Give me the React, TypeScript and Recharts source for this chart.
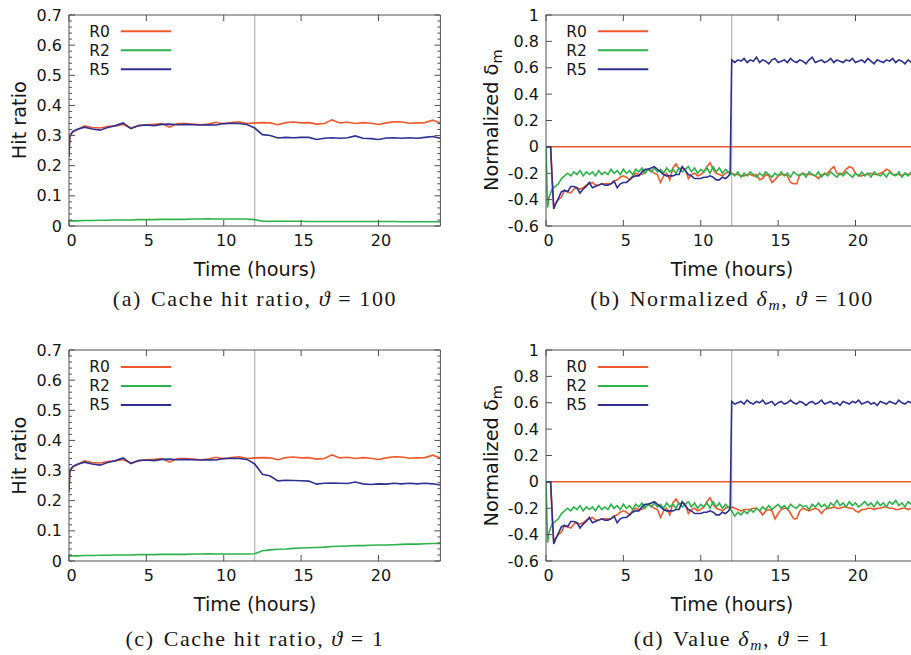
import { Line, LineChart, ReferenceLine, XAxis, YAxis } from 'recharts';

const SANS = '"DejaVu Sans", sans-serif';
const SERIF = '"Liberation Serif", serif';
const FRAME = '#505050';
const INK = '#161616';
const GREY = '#b4b4b4';
const COLORS: Record<string, string> = { R0: '#ef5a2c', R2: '#2db34a', R5: '#2e3192' };
const SERIES = ['R0', 'R2', 'R5'];

const xTicks = [0, 5, 10, 15, 20];
const hitMajor = [0, 0.1, 0.2, 0.3, 0.4, 0.5, 0.6, 0.7];
const hitMinor = [0.02, 0.04, 0.06, 0.08, 0.12, 0.14, 0.16, 0.18, 0.22, 0.24, 0.26, 0.28, 0.32, 0.34, 0.36, 0.38, 0.42, 0.44, 0.46, 0.48, 0.52, 0.54, 0.56, 0.58, 0.62, 0.64, 0.66, 0.68];
const deltaTicks = [-0.6, -0.4, -0.2, 0, 0.2, 0.4, 0.6, 0.8, 1];

// hit ratio panels (a), (c)
const hitTimes = [0, 0.05, 0.25, 0.5, 1, 1.5, 2, 2.5, 3, 3.5, 4, 4.5, 5, 5.5, 6, 6.5, 7, 7.5, 8, 8.5, 9, 9.5, 10, 10.5, 11, 11.5,
  12, 12.5, 13, 13.5, 14, 14.5, 15, 15.5, 16, 16.5, 17, 17.5, 18, 18.5, 19, 19.5, 20, 20.5, 21, 21.5, 22, 22.5, 23, 23.5, 24];
const hitR0 = [0.235, 0.295, 0.312, 0.318, 0.332, 0.327, 0.325, 0.330, 0.332, 0.337, 0.325, 0.333, 0.336, 0.337, 0.340, 0.328, 0.340, 0.340, 0.338, 0.336, 0.338, 0.344, 0.339, 0.343, 0.346, 0.340,
  0.342, 0.343, 0.342, 0.336, 0.343, 0.345, 0.342, 0.343, 0.338, 0.340, 0.352, 0.342, 0.344, 0.340, 0.343, 0.341, 0.337, 0.342, 0.346, 0.345, 0.341, 0.342, 0.343, 0.351, 0.342];
const hitR2First = [0.017, 0.017, 0.017, 0.017, 0.018, 0.018, 0.019, 0.019, 0.020, 0.020, 0.020, 0.021, 0.021, 0.021, 0.022, 0.022, 0.022, 0.022, 0.023, 0.023, 0.024, 0.023, 0.023, 0.023, 0.023, 0.023];
const hitR2SecondA = [0.021, 0.016, 0.016, 0.016, 0.016, 0.016, 0.016, 0.015, 0.015, 0.015, 0.015, 0.015, 0.015, 0.015, 0.015, 0.015, 0.015, 0.015, 0.015, 0.014, 0.014, 0.014, 0.014, 0.014, 0.014];
const hitR2SecondC = [0.024, 0.034, 0.037, 0.039, 0.040, 0.042, 0.043, 0.044, 0.045, 0.046, 0.048, 0.049, 0.050, 0.051, 0.051, 0.052, 0.053, 0.053, 0.054, 0.055, 0.056, 0.056, 0.057, 0.058, 0.058];
const hitR5First = [0.23, 0.30, 0.314, 0.32, 0.328, 0.322, 0.318, 0.327, 0.333, 0.342, 0.323, 0.333, 0.335, 0.333, 0.337, 0.338, 0.336, 0.337, 0.336, 0.335, 0.336, 0.335, 0.340, 0.341, 0.340, 0.337];
const hitR5SecondA = [0.325, 0.303, 0.300, 0.292, 0.294, 0.293, 0.294, 0.294, 0.287, 0.291, 0.293, 0.291, 0.293, 0.299, 0.291, 0.290, 0.287, 0.292, 0.293, 0.291, 0.293, 0.291, 0.294, 0.297, 0.291];
const hitR5SecondC = [0.322, 0.288, 0.282, 0.266, 0.268, 0.267, 0.266, 0.265, 0.255, 0.258, 0.259, 0.258, 0.257, 0.262, 0.256, 0.254, 0.256, 0.255, 0.258, 0.256, 0.258, 0.256, 0.258, 0.256, 0.252];

// normalized delta panels (b), (d)
const deltaTimes = [0, 0.1, 0.2, 0.3, 0.4, 0.5, 0.6, 0.8, 1, 1.2, 1.4, 1.6, 1.8, 2, 2.2, 2.4, 2.6, 2.8, 3, 3.2, 3.4, 3.6, 3.8, 4, 4.2, 4.4, 4.6, 4.8, 5, 5.2,
  5.4, 5.6, 5.8, 6, 6.2, 6.4, 6.6, 6.8, 7, 7.2, 7.4, 7.6, 7.8, 8, 8.2, 8.4, 8.6, 8.8, 9, 9.2, 9.4, 9.6, 9.8, 10, 10.2, 10.4, 10.6, 10.8, 11, 11.2, 11.4, 11.6, 11.8, 11.9,
  12, 12.2, 12.4, 12.6, 12.8, 13, 13.2, 13.4, 13.6, 13.8, 14, 14.2, 14.4, 14.6, 14.8, 15, 15.2, 15.4, 15.6, 15.8, 16, 16.2, 16.4, 16.6, 16.8, 17, 17.2, 17.4, 17.6, 17.8,
  18, 18.2, 18.4, 18.6, 18.8, 19, 19.2, 19.4, 19.6, 19.8, 20, 20.2, 20.4, 20.6, 20.8, 21, 21.2, 21.4, 21.6, 21.8, 22, 22.2, 22.4, 22.6, 22.8, 23, 23.2, 23.4, 23.6, 23.8, 24];
const deltaR0First = [0, 0, 0, 0, -0.25, -0.46, -0.43, -0.40, -0.38, -0.33,
  -0.34, -0.35, -0.32, -0.31, -0.32, -0.31, -0.29, -0.28, -0.27, -0.29,
  -0.29, -0.28, -0.28, -0.28, -0.28, -0.26, -0.25, -0.23, -0.22, -0.23,
  -0.25, -0.22, -0.20, -0.21, -0.21, -0.19, -0.17, -0.18, -0.20, -0.21,
  -0.27, -0.22, -0.20, -0.25, -0.16, -0.13, -0.17, -0.16, -0.17, -0.24,
  -0.21, -0.20, -0.22, -0.21, -0.19, -0.15, -0.12, -0.17, -0.20, -0.21,
  -0.22, -0.20, -0.19, -0.20];
const deltaR2First = [0, -0.46, -0.38, -0.35, -0.32, -0.31, -0.30, -0.28, -0.24, -0.22,
  -0.20, -0.22, -0.19, -0.21, -0.18, -0.22, -0.19, -0.21, -0.19, -0.22,
  -0.18, -0.21, -0.19, -0.21, -0.17, -0.20, -0.18, -0.21, -0.17, -0.20,
  -0.18, -0.21, -0.17, -0.19, -0.16, -0.20, -0.17, -0.19, -0.16, -0.19,
  -0.17, -0.20, -0.16, -0.19, -0.17, -0.20, -0.16, -0.19, -0.17, -0.15,
  -0.19, -0.16, -0.20, -0.17, -0.19, -0.16, -0.20, -0.15, -0.19, -0.16,
  -0.20, -0.17, -0.19, -0.21];
const deltaR5First = [0, 0, 0, 0, -0.25, -0.47, -0.44, -0.39, -0.34, -0.33,
  -0.34, -0.30, -0.30, -0.31, -0.35, -0.32, -0.30, -0.27, -0.31, -0.30,
  -0.29, -0.28, -0.29, -0.29, -0.28, -0.26, -0.31, -0.28, -0.27, -0.27,
  -0.25, -0.23, -0.22, -0.22, -0.19, -0.17, -0.17, -0.16, -0.15, -0.17,
  -0.19, -0.21, -0.22, -0.22, -0.22, -0.21, -0.21, -0.15, -0.18, -0.21,
  -0.22, -0.24, -0.24, -0.24, -0.23, -0.23, -0.22, -0.23, -0.25, -0.25,
  -0.23, -0.24, -0.22, -0.20];

const deltaR0SecondB = [-0.20, -0.21, -0.21, -0.22, -0.22, -0.21, -0.21, -0.22, -0.21, -0.25,
  -0.24, -0.21, -0.22, -0.27, -0.25, -0.22, -0.21, -0.21, -0.22, -0.27,
  -0.28, -0.28, -0.21, -0.20, -0.21, -0.21, -0.21, -0.22, -0.24, -0.21,
  -0.21, -0.20, -0.17, -0.15, -0.20, -0.21, -0.20, -0.17, -0.15, -0.16,
  -0.20, -0.22, -0.22, -0.21, -0.21, -0.20, -0.21, -0.21, -0.20, -0.19,
  -0.17, -0.18, -0.21, -0.21, -0.21, -0.22, -0.20, -0.21, -0.21, -0.20,
  -0.21];
const deltaR2SecondB = [-0.20, -0.22, -0.19, -0.23, -0.20, -0.22, -0.19, -0.21, -0.23, -0.20,
  -0.22, -0.19, -0.21, -0.23, -0.20, -0.22, -0.19, -0.22, -0.20, -0.23,
  -0.19, -0.21, -0.22, -0.20, -0.23, -0.19, -0.21, -0.22, -0.19, -0.23,
  -0.20, -0.22, -0.19, -0.21, -0.23, -0.20, -0.22, -0.19, -0.21, -0.23,
  -0.20, -0.22, -0.19, -0.22, -0.20, -0.23, -0.19, -0.21, -0.22, -0.20,
  -0.23, -0.19, -0.21, -0.22, -0.19, -0.23, -0.20, -0.22, -0.19, -0.21,
  -0.22];
const deltaR5SecondB = [0.66, 0.64, 0.66, 0.65, 0.67, 0.64, 0.66, 0.65, 0.68, 0.64,
  0.66, 0.65, 0.63, 0.66, 0.67, 0.64, 0.65, 0.66, 0.64, 0.67,
  0.65, 0.64, 0.66, 0.65, 0.63, 0.66, 0.68, 0.64, 0.65, 0.66,
  0.64, 0.65, 0.67, 0.64, 0.66, 0.65, 0.64, 0.66, 0.65, 0.67,
  0.64, 0.65, 0.66, 0.64, 0.67, 0.65, 0.63, 0.66, 0.65, 0.64,
  0.66, 0.65, 0.67, 0.64, 0.66, 0.65, 0.63, 0.66, 0.64, 0.65,
  0.66];

const deltaR0SecondD = [-0.19, -0.20, -0.21, -0.22, -0.21, -0.21, -0.21, -0.20, -0.20, -0.22,
  -0.25, -0.22, -0.21, -0.22, -0.28, -0.24, -0.21, -0.20, -0.20, -0.24,
  -0.28, -0.28, -0.22, -0.20, -0.21, -0.22, -0.21, -0.20, -0.21, -0.24,
  -0.21, -0.20, -0.20, -0.19, -0.20, -0.20, -0.19, -0.19, -0.20, -0.20,
  -0.22, -0.23, -0.21, -0.21, -0.20, -0.20, -0.21, -0.20, -0.20, -0.19,
  -0.19, -0.20, -0.20, -0.21, -0.21, -0.20, -0.20, -0.21, -0.20, -0.20,
  -0.21];
const deltaR2SecondD = [-0.22, -0.26, -0.23, -0.25, -0.22, -0.24, -0.21, -0.23, -0.20, -0.22,
  -0.19, -0.21, -0.18, -0.21, -0.19, -0.17, -0.20, -0.18, -0.21, -0.17,
  -0.19, -0.20, -0.17, -0.19, -0.18, -0.21, -0.17, -0.19, -0.16, -0.19,
  -0.17, -0.20, -0.16, -0.18, -0.14, -0.18, -0.16, -0.19, -0.15, -0.18,
  -0.16, -0.19, -0.17, -0.15, -0.18, -0.16, -0.19, -0.15, -0.18, -0.16,
  -0.19, -0.15, -0.17, -0.14, -0.18, -0.16, -0.19, -0.15, -0.17, -0.16,
  -0.18];
const deltaR5SecondD = [0.61, 0.59, 0.60, 0.61, 0.59, 0.62, 0.60, 0.59, 0.61, 0.60,
  0.62, 0.59, 0.60, 0.61, 0.58, 0.60, 0.61, 0.59, 0.60, 0.62,
  0.60, 0.59, 0.61, 0.60, 0.58, 0.60, 0.61, 0.59, 0.60, 0.62,
  0.59, 0.60, 0.61, 0.59, 0.60, 0.58, 0.61, 0.60, 0.59, 0.61,
  0.60, 0.62, 0.59, 0.60, 0.61, 0.59, 0.60, 0.58, 0.61, 0.60,
  0.59, 0.61, 0.60, 0.59, 0.62, 0.60, 0.59, 0.61, 0.60, 0.58,
  0.60];

type Row = { t: number; R0: number; R2: number; R5: number };

function rows(times: number[], r0: number[], r2: number[], r5: number[]): Row[] {
  return times.map((t, i) => ({ t, R0: r0[i], R2: r2[i], R5: r5[i] }));
}

const dataA = rows(hitTimes, hitR0, [...hitR2First, ...hitR2SecondA], [...hitR5First, ...hitR5SecondA]);
const dataC = rows(hitTimes, hitR0, [...hitR2First, ...hitR2SecondC], [...hitR5First, ...hitR5SecondC]);
const dataB = rows(deltaTimes, [...deltaR0First, ...deltaR0SecondB], [...deltaR2First, ...deltaR2SecondB], [...deltaR5First, ...deltaR5SecondB]);
const dataD = rows(deltaTimes, [...deltaR0First, ...deltaR0SecondD], [...deltaR2First, ...deltaR2SecondD], [...deltaR5First, ...deltaR5SecondD]);

// plot-area geometry
const PLOT_W = 371.4;
const PLOT_H = 211;
const PAD_L = 60;
const PAD_R = 10;
const PAD_T = 10;
const PAD_B = 30;
const LEFT_COL = 69.3;
const RIGHT_COL = 546.3;
const TOP_ROW = 14.7;
const BOTTOM_ROW = 350.3;
const TICK_FONT = 16;

function Panel({ left, top, data, domain, ticks, major, zeroLine }: {
  left: number; top: number; data: Row[]; domain: [number, number]; ticks: number[]; major: number[]; zeroLine?: boolean;
}) {
  const isMajor = (v: number) => major.some((m) => Math.abs(m - v) < 1e-6);
  const bottomTick = (p: any) => (
    <g>
      <line x1={p.x} x2={p.x} y1={p.y} y2={p.y - 6} stroke={FRAME} />
      <text x={p.x + 2.5} y={p.y + 20.5} textAnchor="middle" fontFamily={SANS} fontSize={TICK_FONT} fill={INK}>{p.payload.value}</text>
    </g>
  );
  const topTick = (p: any) => <line x1={p.x} x2={p.x} y1={p.y} y2={p.y + 6} stroke={FRAME} />;
  const leftTick = (p: any) => {
    const big = isMajor(p.payload.value);
    return (
      <g>
        <line x1={p.x} x2={p.x + (big ? 6 : 3)} y1={p.y} y2={p.y} stroke={FRAME} />
        {big ? <text x={p.x - 7} y={p.y + 5.6} textAnchor="end" fontFamily={SANS} fontSize={TICK_FONT} fill={INK}>{String(p.payload.value)}</text> : null}
      </g>
    );
  };
  const rightTick = (p: any) => {
    const big = isMajor(p.payload.value);
    return <line x1={p.x} x2={p.x - (big ? 6 : 3)} y1={p.y} y2={p.y} stroke={FRAME} />;
  };
  return (
    <div style={{ position: 'absolute', left: left - PAD_L, top: top - PAD_T }}>
      <LineChart data={data} height={PLOT_H + PAD_T + PAD_B} margin={{ top: 0, right: 0, bottom: 0, left: 0 }} width={PLOT_W + PAD_L + PAD_R}>
        <XAxis allowDataOverflow dataKey="t" domain={[0, 24]} height={PAD_B} interval={0} stroke={FRAME} tick={bottomTick} tickLine={false} tickMargin={0} tickSize={0} ticks={xTicks} type="number" />
        <XAxis allowDataOverflow dataKey="t" domain={[0, 24]} height={PAD_T} interval={0} orientation="top" stroke={FRAME} tick={topTick} tickLine={false} tickMargin={0} tickSize={0} ticks={xTicks} type="number" xAxisId="top" />
        <YAxis allowDataOverflow domain={domain} interval={0} stroke={FRAME} tick={leftTick} tickLine={false} tickMargin={0} tickSize={0} ticks={ticks} type="number" width={PAD_L} />
        <YAxis allowDataOverflow domain={domain} interval={0} orientation="right" stroke={FRAME} tick={rightTick} tickLine={false} tickMargin={0} tickSize={0} ticks={ticks} type="number" width={PAD_R} yAxisId="right" />
        <ReferenceLine stroke={GREY} strokeWidth={1.2} x={12} />
        {zeroLine ? <ReferenceLine stroke={COLORS.R0} strokeWidth={1.5} y={0} /> : null}
        {SERIES.map((s) => (
          <Line dataKey={s} dot={false} isAnimationActive={false} key={s} name={s} stroke={COLORS[s]} strokeWidth={1.6} type="linear" />
        ))}
      </LineChart>
    </div>
  );
}

function LegendBox({ left, top }: { left: number; top: number }) {
  return (
    <g>
      {SERIES.map((s, i) => {
        const y = top + 16.6 + i * 19;
        return (
          <g key={s}>
            <text x={left + 40.5} y={y + 5.5} textAnchor="end" fontFamily={SANS} fontSize={15.5} fill={INK}>{s}</text>
            <line x1={left + 51.5} x2={left + 102} y1={y} y2={y} stroke={COLORS[s]} strokeWidth={2} />
          </g>
        );
      })}
    </g>
  );
}

function Captions() {
  const cx1 = LEFT_COL + PLOT_W / 2;
  const cx2 = RIGHT_COL + PLOT_W / 2;
  const cap = { fontFamily: SERIF, fontSize: 22, fill: INK, textAnchor: 'middle' as const, letterSpacing: 1.6 };
  const axisTitle = { fontFamily: SANS, fontSize: 19.3, fill: INK, textAnchor: 'middle' as const };
  return (
    <svg height={655} style={{ position: 'absolute', left: 0, top: 0, pointerEvents: 'none' }} width={911}>
      <LegendBox left={LEFT_COL} top={TOP_ROW} />
      <LegendBox left={RIGHT_COL} top={TOP_ROW} />
      <LegendBox left={LEFT_COL} top={BOTTOM_ROW} />
      <LegendBox left={RIGHT_COL} top={BOTTOM_ROW} />

      <text {...axisTitle} transform={`translate(25.7,${TOP_ROW + PLOT_H / 2}) rotate(-90)`}>Hit ratio</text>
      <text {...axisTitle} transform={`translate(25.7,${BOTTOM_ROW + PLOT_H / 2}) rotate(-90)`}>Hit ratio</text>
      <text {...axisTitle} transform={`translate(497.5,${TOP_ROW + PLOT_H / 2}) rotate(-90)`}>Normalized δ<tspan dy={4} fontSize={14.5}>m</tspan></text>
      <text {...axisTitle} transform={`translate(497.5,${BOTTOM_ROW + PLOT_H / 2}) rotate(-90)`}>Normalized δ<tspan dy={4} fontSize={14.5}>m</tspan></text>

      <text {...axisTitle} x={cx1} y={TOP_ROW + PLOT_H + 50}>Time (hours)</text>
      <text {...axisTitle} x={cx2} y={TOP_ROW + PLOT_H + 50}>Time (hours)</text>
      <text {...axisTitle} x={cx1} y={BOTTOM_ROW + PLOT_H + 50}>Time (hours)</text>
      <text {...axisTitle} x={cx2} y={BOTTOM_ROW + PLOT_H + 50}>Time (hours)</text>

      <text {...cap} x={cx1} y={306}>(a)<tspan dx={9}>Cache hit ratio, </tspan><tspan fontStyle="italic">ϑ</tspan> = 100</text>
      <text {...cap} x={cx2} y={306}>(b)<tspan dx={9}>Normalized </tspan><tspan fontStyle="italic">δ</tspan><tspan dy={4} fontSize={15.5} fontStyle="italic">m</tspan><tspan dy={-4}>, </tspan><tspan fontStyle="italic">ϑ</tspan> = 100</text>
      <text {...cap} x={cx1} y={646}>(c)<tspan dx={9}>Cache hit ratio, </tspan><tspan fontStyle="italic">ϑ</tspan> = 1</text>
      <text {...cap} x={cx2} y={646}>(d)<tspan dx={9}>Value </tspan><tspan fontStyle="italic">δ</tspan><tspan dy={4} fontSize={15.5} fontStyle="italic">m</tspan><tspan dy={-4}>, </tspan><tspan fontStyle="italic">ϑ</tspan> = 1</text>
    </svg>
  );
}

export default function App() {
  return (
    <div style={{ position: 'absolute', left: 0, top: 0, width: 911, height: 655, overflow: 'hidden', background: '#fff' }}>
      <Panel data={dataA} domain={[0, 0.7]} left={LEFT_COL} major={hitMajor} ticks={[...hitMajor, ...hitMinor]} top={TOP_ROW} />
      <Panel data={dataB} domain={[-0.6, 1]} left={RIGHT_COL} major={deltaTicks} ticks={deltaTicks} top={TOP_ROW} zeroLine />
      <Panel data={dataC} domain={[0, 0.7]} left={LEFT_COL} major={hitMajor} ticks={[...hitMajor, ...hitMinor]} top={BOTTOM_ROW} />
      <Panel data={dataD} domain={[-0.6, 1]} left={RIGHT_COL} major={deltaTicks} ticks={deltaTicks} top={BOTTOM_ROW} zeroLine />
      <Captions />
    </div>
  );
}
